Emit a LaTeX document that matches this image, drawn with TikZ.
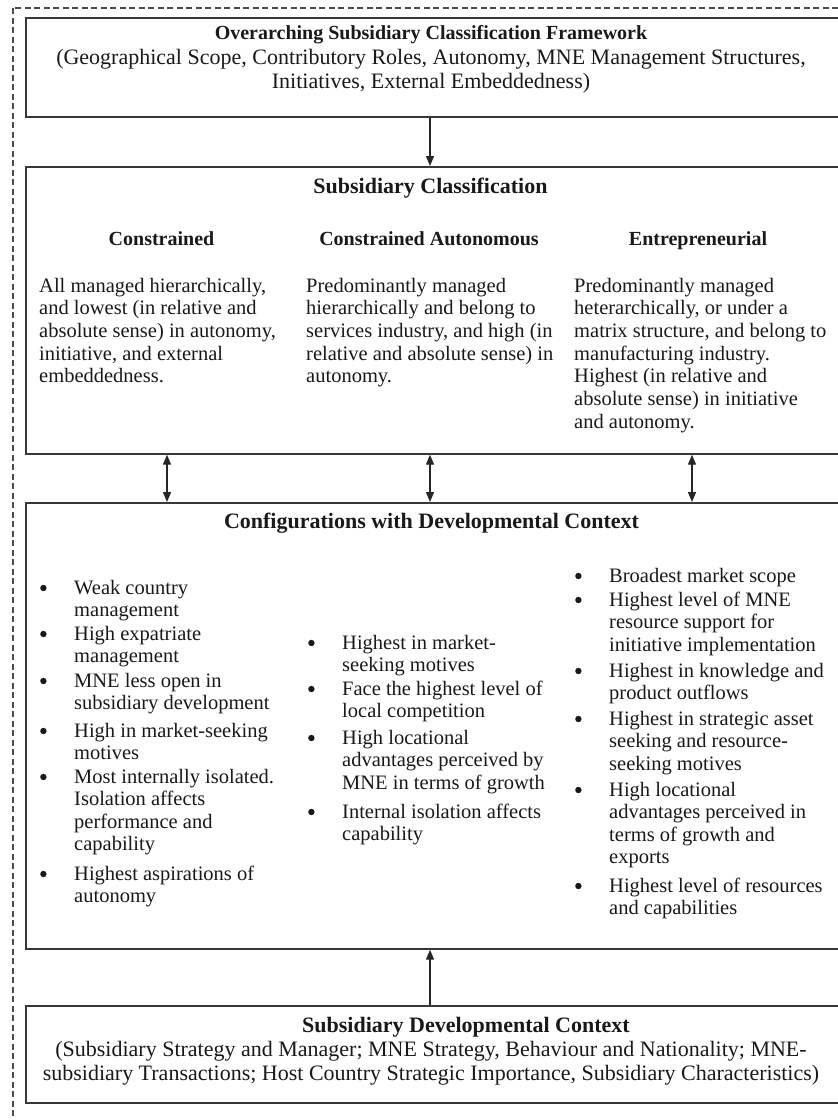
\documentclass[tikz,border=0pt]{standalone}
\usepackage{fontspec}
\setmainfont{Liberation Serif}
\usetikzlibrary{arrows.meta}

% round bullet drawn as a small disc
\newcommand\bigdot{\tikz[baseline=0pt]\fill[black!90] (3.2pt,6pt) circle (3.2pt);}
% bullet item with hanging indent; lines are broken with \\
\newcommand\bitem[1]{\hangindent=35pt\hangafter=1\noindent\makebox[35pt][l]{\hspace{1pt}\bigdot}#1\par}
\newcommand\gap[1]{\vspace{#1pt}}
\newcommand\bodyfont{\fontsize{20.5}{22.7}\selectfont}
\newcommand\listfont{\fontsize{20.5}{22.6}\selectfont}

\begin{document}
\begin{tikzpicture}[x=1pt,y=-1pt,
  box/.style={draw=black!78, line width=1.7pt, inner sep=0pt, anchor=north west, minimum width=812.5pt},
  txt/.style={inner sep=0pt, text=black!90},
  ttl/.style={txt, anchor=base, font=\fontsize{22}{24}\selectfont\bfseries},
  hdr/.style={txt, anchor=base, font=\fontsize{20}{22}\selectfont\bfseries},
  col/.style={txt, anchor=base west},
  arr/.style={draw=black!85, line width=1.3pt, -{Triangle[length=10pt,width=8pt]}},
  darr/.style={draw=black!85, line width=1.3pt, {Triangle[length=10pt,width=8pt]}-{Triangle[length=10pt,width=8pt]}},
  outer/.style={draw=black!70, line width=1.1pt, dash pattern=on 6pt off 3.5pt}]

\useasboundingbox (0,0) rectangle (838,1120);
\clip (0,0) rectangle (838,1120);

% dashed frame round the whole model
\draw[outer] (13,8) rectangle (870,1150);

% the four boxes
\node[box, minimum height=99pt]  (frame) at (25,17)   {};
\node[box, minimum height=287pt] (cls)   at (25,166)  {};
\node[box, minimum height=446pt] (cfg)   at (25,502)  {};
\node[box, minimum height=97pt]  (ctx)   at (25,1005) {};

% columns for the connectors
\coordinate (ax1) at (167,0);
\coordinate (ax2) at (430,0);
\coordinate (ax3) at (692,0);

% framework box
\node[ttl, font=\fontsize{20}{24}\selectfont\bfseries] (frameT) at (431,39) {Overarching Subsidiary Classification Framework};
\node[txt, anchor=base, font=\fontsize{22}{24}\selectfont] (frameB) at (431,64)
  {\parbox[t]{810pt}{\centering (Geographical Scope, Contributory Roles, Autonomy, MNE Management Structures,\\
   Initiatives, External Embeddedness)}};

% classification box
\node[ttl] (clsT) at (430.5,193) {Subsidiary Classification};
\node[hdr] (h1) at (161.5,245) {Constrained};
\node[hdr] (h2) at (429,245) {Constrained Autonomous};
\node[hdr] (h3) at (698,245) {Entrepreneurial};
\node[col] (c1) at (39,292) {\parbox[t]{260pt}{\bodyfont
  All managed hierarchically,\\and lowest (in relative and\\absolute sense) in autonomy,\\initiative, and external\\embeddedness.}};
\node[col] (c2) at (306,292) {\parbox[t]{260pt}{\bodyfont
  Predominantly managed\\hierarchically and belong to\\services industry, and high (in\\relative and absolute sense) in\\autonomy.}};
\node[col] (c3) at (574,292) {\parbox[t]{260pt}{\bodyfont
  Predominantly managed\\heterarchically, or under a\\matrix structure, and belong to\\manufacturing industry.\\Highest (in relative and\\absolute sense) in initiative\\and autonomy.}};

% configurations box
\node[ttl] (cfgT) at (431.5,528) {Configurations with Developmental Context};

\node[col] (l1) at (39,594) {\parbox[t]{260pt}{\listfont
  \bitem{Weak country\\management}\gap{0.8}
  \bitem{High expatriate\\management}\gap{1.8}
  \bitem{MNE less open in\\subsidiary development}\gap{4.8}
  \bitem{High in market-seeking\\motives}\gap{0.8}
  \bitem{Most internally isolated.\\Isolation affects\\performance and\\capability}\gap{6.6}
  \bitem{Highest aspirations of\\autonomy}}};

\node[col] (l2) at (307,649) {\parbox[t]{260pt}{\listfont
  \bitem{Highest in market-\\seeking motives}\gap{0.8}
  \bitem{Face the highest level of\\local competition}\gap{3.8}
  \bitem{High locational\\advantages perceived by\\MNE in terms of growth}\gap{6.2}
  \bitem{Internal isolation affects\\capability}}};

\node[col] (l3) at (574,582) {\parbox[t]{260pt}{\listfont
  \bitem{Broadest market scope}\gap{1.4}
  \bitem{Highest level of MNE\\resource support for\\initiative implementation}\gap{3.2}
  \bitem{Highest in knowledge and\\product outflows}\gap{2.8}
  \bitem{Highest in strategic asset\\seeking and resource-\\seeking motives}\gap{3.2}
  \bitem{High locational\\advantages perceived in\\terms of growth and\\exports}\gap{5.6}
  \bitem{Highest level of resources\\and capabilities}}};

% developmental context box
\node[ttl] (ctxT) at (466,1032) {Subsidiary Developmental Context};
\node[txt, anchor=base, font=\fontsize{22}{24}\selectfont] (ctxB) at (431,1056)
  {\parbox[t]{810pt}{\centering (Subsidiary Strategy and Manager; MNE Strategy, Behaviour and Nationality; MNE-\\
   subsidiary Transactions; Host Country Strategic Importance, Subsidiary Characteristics)}};

% connectors
\draw[arr]  (frame.south -| ax2) -- (cls.north -| ax2);
\draw[darr] (cls.south -| ax1) -- (cfg.north -| ax1);
\draw[darr] (cls.south -| ax2) -- (cfg.north -| ax2);
\draw[darr] (cls.south -| ax3) -- (cfg.north -| ax3);
\draw[arr]  (ctx.north -| ax2) -- (cfg.south -| ax2);
\end{tikzpicture}
\end{document}
